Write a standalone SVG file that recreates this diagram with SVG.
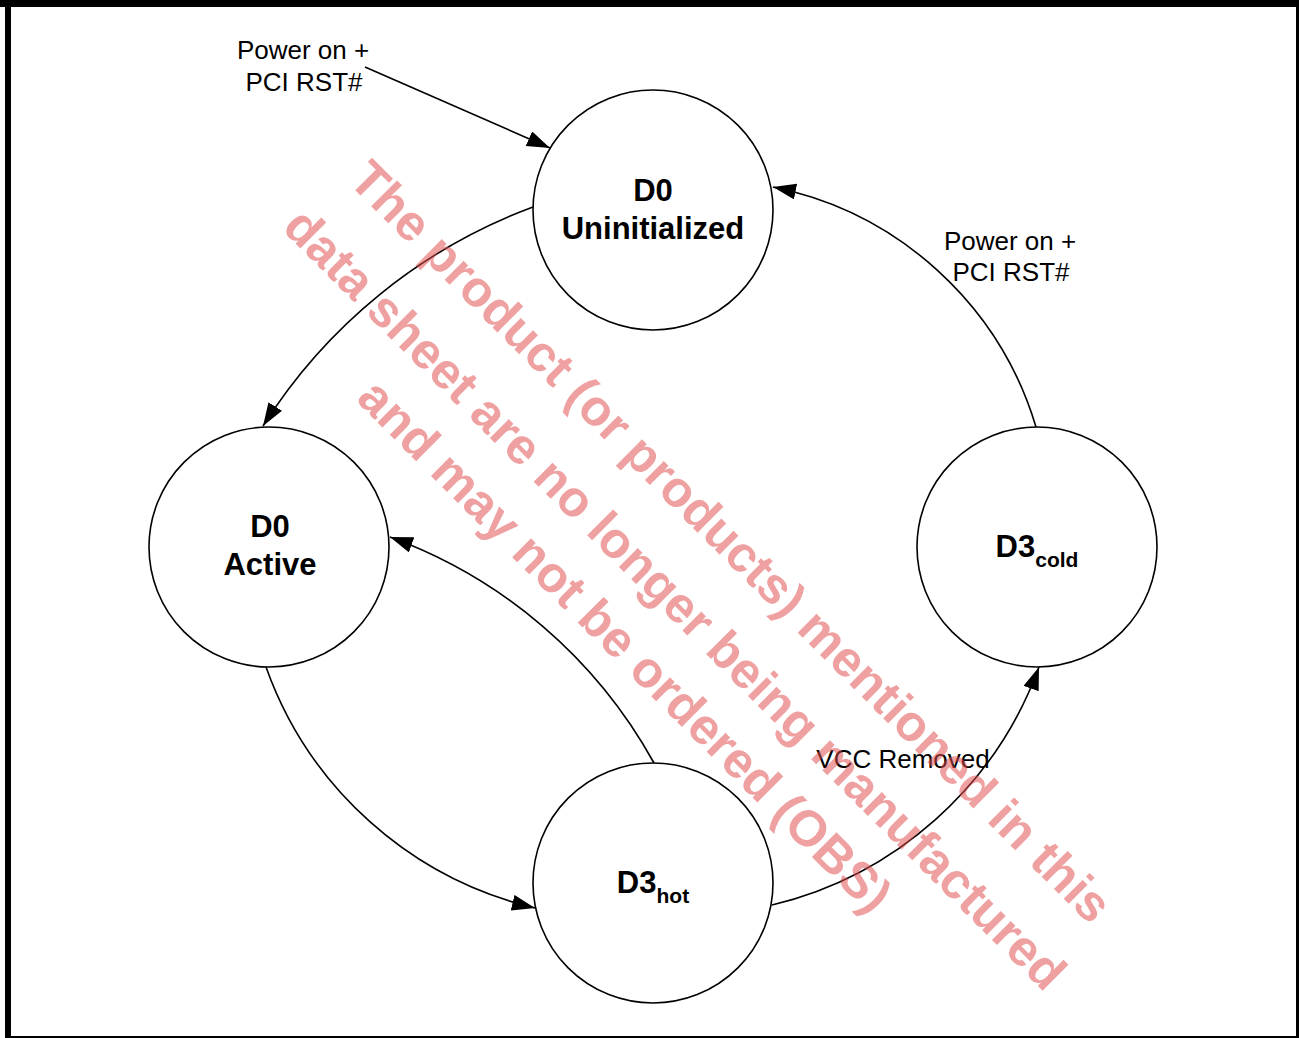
<svg xmlns="http://www.w3.org/2000/svg" width="1299" height="1038" viewBox="0 0 1299 1038">
  <style>
    .node circle { fill: #ffffff; stroke: #000000; stroke-width: 1.6; }
    .nt { font-family: "Liberation Sans", Arial, sans-serif; font-weight: bold; font-size: 31px; fill: #000000; text-anchor: middle; }
    .sub { font-size: 21px; }
    .lbl { font-family: "Liberation Sans", Arial, sans-serif; font-size: 26px; fill: #000000; text-anchor: middle; }
    .edge { fill: none; stroke: #000000; stroke-width: 1.6; marker-end: url(#arrow); }
    .wm { font-family: "Liberation Sans", Arial, sans-serif; font-weight: bold; font-size: 50.5px; fill: #E04848; fill-opacity: 0.52; text-anchor: middle; }
  </style>
  <defs>
    <marker id="arrow" markerUnits="userSpaceOnUse" markerWidth="24" markerHeight="18" refX="23" refY="8" orient="auto">
      <path d="M0,0 L23,8 L0,16 Z" fill="#000000"/>
    </marker>
  </defs>
  <rect x="0" y="0" width="1299" height="1038" fill="#ffffff"/>
  <g id="frame" fill="#000000">
    <rect x="0" y="0" width="1299" height="7"/>
    <rect x="5" y="0" width="6" height="1038"/>
    <rect x="1296" y="0" width="3" height="1038"/>
    <rect x="5" y="1036" width="1294" height="2"/>
  </g>
  <g id="connectors">
    <path class="edge" d="M365,67 L550,148"/>
    <path class="edge" d="M533,207 A542,542 0 0 0 263,426"/>
    <path class="edge" d="M1036,427 A346,346 0 0 0 773,187"/>
    <path class="edge" d="M654,763 A495,495 0 0 0 390,537"/>
    <path class="edge" d="M266,667 A378,378 0 0 0 535,908"/>
    <path class="edge" d="M772,905 A378,378 0 0 0 1039,667"/>
  </g>
  <g id="labels">
    <text class="lbl" x="303" y="59">Power on +</text>
    <text class="lbl" x="304" y="91">PCI RST#</text>
    <text class="lbl" x="1010" y="250">Power on +</text>
    <text class="lbl" x="1011" y="281">PCI RST#</text>
    <text class="lbl" x="903" y="768">VCC Removed</text>
  </g>
  <g id="d0-uninitialized" class="node">
    <circle cx="653" cy="210" r="120"/>
    <text class="nt" x="653" y="201">D0</text>
    <text class="nt" x="653" y="239">Uninitialized</text>
  </g>
  <g id="d0-active" class="node">
    <circle cx="269" cy="547" r="120"/>
    <text class="nt" x="270" y="537">D0</text>
    <text class="nt" x="270" y="575">Active</text>
  </g>
  <g id="d3-hot" class="node">
    <circle cx="653" cy="883" r="120"/>
    <text class="nt" x="653" y="893">D3<tspan class="sub" dy="10">hot</tspan></text>
  </g>
  <g id="d3-cold" class="node">
    <circle cx="1037" cy="547" r="120"/>
    <text class="nt" x="1037" y="557">D3<tspan class="sub" dy="10">cold</tspan></text>
  </g>
  <g id="watermark">
    <text class="wm" transform="translate(719,554) rotate(45)">The product (or products) mentioned in this</text>
    <text class="wm" transform="translate(663,611) rotate(45)">data sheet are no longer being manufactured</text>
    <text class="wm" transform="translate(613,658) rotate(45)">and may not be ordered (OBS)</text>
  </g>
</svg>
